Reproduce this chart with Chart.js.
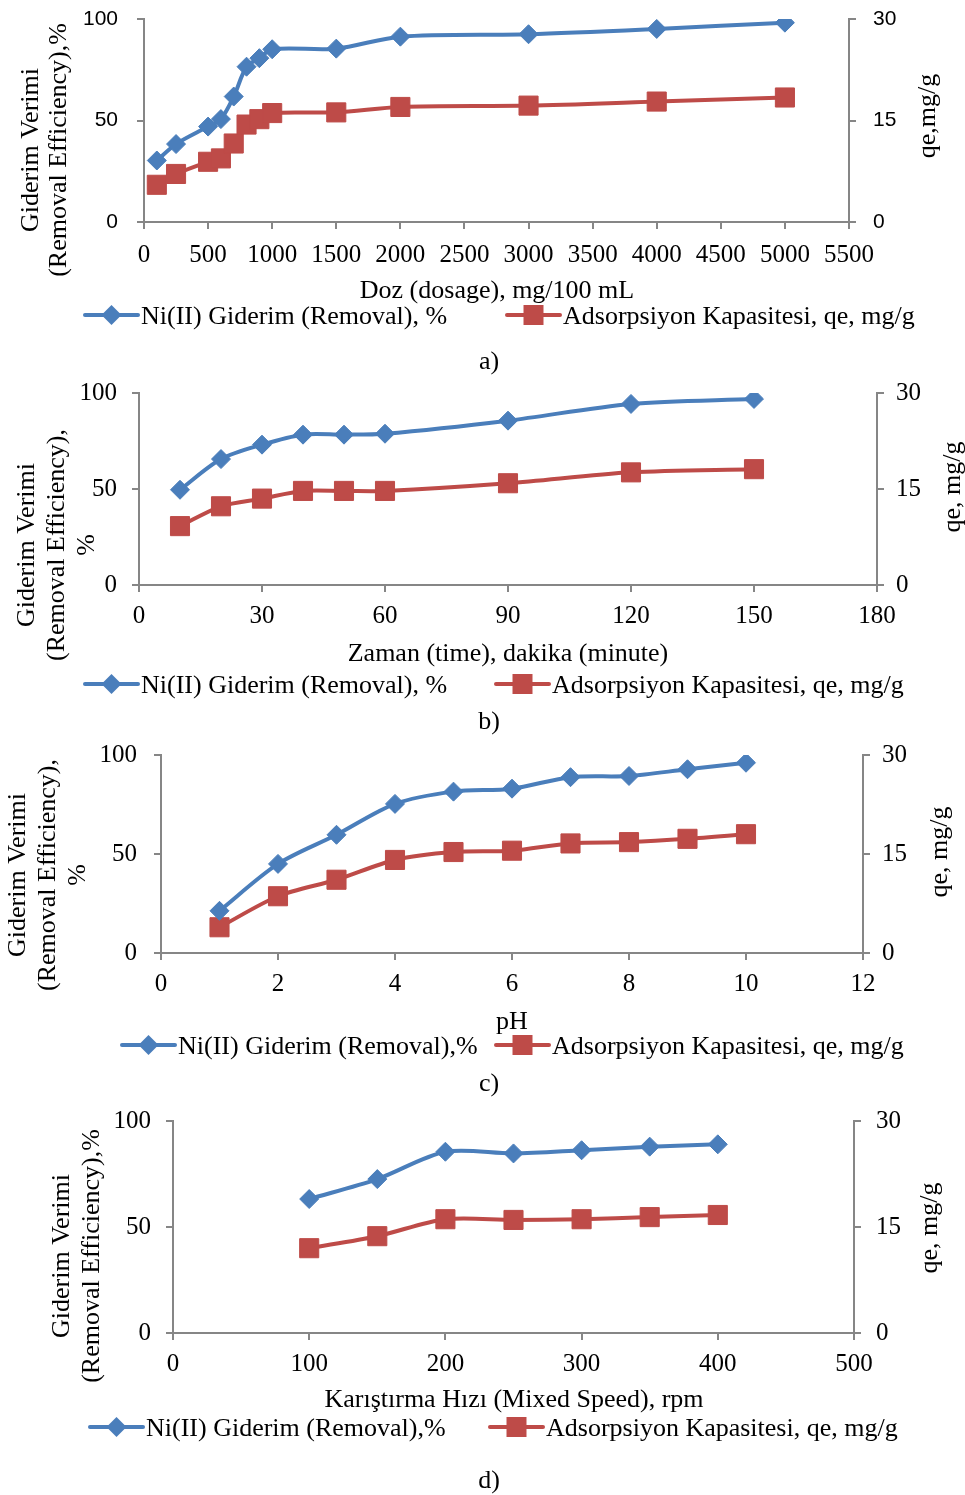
<!DOCTYPE html>
<html>
<head>
<meta charset="utf-8">
<script src="https://cdn.jsdelivr.net/npm/chart.js@4.4.1/dist/chart.umd.min.js"></script>
<style>
  body { margin: 0; background: #fff; width: 965px; height: 1495px; position: relative; overflow: hidden; }
  .panel { position: absolute; left: 0; width: 965px; }
</style>
</head>
<body>
<div class="panel" style="top:0;height:375px"><canvas id="grafica-a"></canvas></div>
<div class="panel" style="top:375px;height:362px"><canvas id="grafica-b"></canvas></div>
<div class="panel" style="top:737px;height:366px"><canvas id="grafica-c"></canvas></div>
<div class="panel" style="top:1103px;height:392px"><canvas id="grafica-d"></canvas></div>

<script>
// ===== DATOS =====
const serieGiderim = 'Ni(II) Giderim (Removal), %';
const serieQe = 'Adsorpsiyon Kapasitesi, qe, mg/g';

// a) dosis
const dosis = [100, 250, 500, 600, 700, 800, 900, 1000, 1500, 2000, 3000, 4000, 5000];
const dosisGiderim = [30.3, 38.4, 47.0, 50.7, 61.8, 76.5, 80.7, 85.1, 85.4, 91.3, 92.5, 95.1, 98.2];
const dosisQe = [5.5, 7.1, 8.9, 9.4, 11.6, 14.4, 15.2, 16.1, 16.2, 17.0, 17.2, 17.8, 18.4];

// b) tiempo
const zaman = [10, 20, 30, 40, 50, 60, 90, 120, 150];
const zamanGiderim = [49.6, 65.6, 73.1, 78.3, 78.3, 78.8, 85.6, 94.3, 96.9];
const zamanQe = [9.2, 12.3, 13.5, 14.7, 14.7, 14.7, 15.9, 17.6, 18.1];

// c) pH
const ph = [1, 2, 3, 4, 5, 6, 7, 8, 9, 10];
const phGiderim = [21.3, 45.0, 59.7, 75.3, 81.5, 83.0, 88.8, 89.4, 92.8, 96.1];
const phQe = [3.9, 8.6, 11.1, 14.1, 15.3, 15.5, 16.6, 16.8, 17.3, 18.0];

// d) velocidad de agitación
const hiz = [100, 150, 200, 250, 300, 350, 400];
const hizGiderim = [63.2, 72.6, 85.5, 84.7, 86.2, 87.9, 89.0];
const hizQe = [12.0, 13.7, 16.1, 16.0, 16.1, 16.4, 16.7];

// ejes
const ticksIzq = [0, 50, 100];
const ticksDer = [0, 15, 30];
const ticksDosis = [0, 500, 1000, 1500, 2000, 2500, 3000, 3500, 4000, 4500, 5000, 5500];
const ticksZaman = [0, 30, 60, 90, 120, 150, 180];
const ticksPh = [0, 2, 4, 6, 8, 10, 12];
const ticksHiz = [0, 100, 200, 300, 400, 500];

// ===== ESTILO =====
const AZUL = '#4A7EBB';
const ROJO = '#BE4B48';
const GRIS = '#868686';
const SERIF = '"Liberation Serif", "Times New Roman", serif';
const SANS = '"Liberation Sans", Arial, sans-serif';
const ANCHO = 965;

function dibujarMarcador(ctx, tipo, x, y, color) {
    ctx.fillStyle = color;
    ctx.beginPath();
    if (tipo === 'rombo') {
        ctx.moveTo(x, y - 10); ctx.lineTo(x + 10, y); ctx.lineTo(x, y + 10); ctx.lineTo(x - 10, y);
    } else {
        ctx.rect(x - 10, y - 10, 20, 20);
    }
    ctx.closePath();
    ctx.fill();
}

// Textos: títulos de ejes, leyenda y letra del panel
const pluginTextos = {
    id: 'textos',
    afterDraw(chart, args, o) {
        const ctx = chart.ctx;
        ctx.save();
        ctx.fillStyle = '#000';
        ctx.font = '26px ' + SERIF;
        ctx.textAlign = 'center';
        ctx.textBaseline = 'middle';

        // título eje izquierdo (varias líneas, girado)
        ctx.save();
        ctx.translate(o.izq.x, o.izq.y);
        ctx.rotate(-Math.PI / 2);
        const n = o.izq.lineas.length;
        o.izq.lineas.forEach((l, i) => ctx.fillText(l, 0, (i - (n - 1) / 2) * o.izq.sep));
        ctx.restore();

        // título eje derecho
        ctx.save();
        ctx.translate(o.der.x, o.der.y);
        ctx.rotate(-Math.PI / 2);
        ctx.fillText(o.der.texto, 0, 0);
        ctx.restore();

        // título eje x
        ctx.fillText(o.ejeX.texto, o.ejeX.x, o.ejeX.y);

        // leyenda
        ctx.textAlign = 'left';
        const ds = chart.data.datasets;
        o.leyenda.forEach((item, i) => {
            const d = ds[i];
            ctx.strokeStyle = d.borderColor;
            ctx.lineWidth = 4;
            ctx.lineCap = 'round';
            ctx.beginPath();
            ctx.moveTo(item.x, o.leyendaY);
            ctx.lineTo(item.x + 53, o.leyendaY);
            ctx.stroke();
            dibujarMarcador(ctx, i === 0 ? 'rombo' : 'cuadro', item.x + 26.5, o.leyendaY, d.borderColor);
            ctx.fillStyle = '#000';
            ctx.fillText(d.label, item.x + 56, o.leyendaY + 2);
        });

        // letra del panel
        ctx.textAlign = 'center';
        ctx.fillText(o.letra.texto, o.letra.x, o.letra.y);
        ctx.restore();
    }
};

function crearGrafica(id, cfg) {
    const canvas = document.getElementById(id);
    const alto = canvas.parentElement.clientHeight;
    const area = cfg.area; // {l, t, r, b} relativo al panel
    const fijar = (prop, valor) => s => {
        s[prop] = valor;
        s.paddingLeft = 0; s.paddingRight = 0; s.paddingTop = 0; s.paddingBottom = 0;
    };
    const ticksDe = arr => s => { s.ticks = arr.map(v => ({ value: v })); };
    const simple = v => String(v);

    return new Chart(canvas.getContext('2d'), {
        type: 'line',
        data: {
            datasets: [
                {
                    label: cfg.etiquetas[0],
                    data: cfg.x.map((v, i) => ({ x: v, y: cfg.giderim[i] })),
                    yAxisID: 'y',
                    borderColor: AZUL, backgroundColor: AZUL,
                    borderWidth: 4, tension: 0.3,
                    pointStyle: 'rectRot', pointRadius: 9.5, pointBorderWidth: 1,
                    pointBackgroundColor: AZUL, pointBorderColor: AZUL
                },
                {
                    label: cfg.etiquetas[1],
                    data: cfg.x.map((v, i) => ({ x: v, y: cfg.qe[i] })),
                    yAxisID: 'y2',
                    borderColor: ROJO, backgroundColor: ROJO,
                    borderWidth: 4, tension: 0.3,
                    pointStyle: 'rect', pointRadius: 13.5, pointBorderWidth: 1,
                    pointBackgroundColor: ROJO, pointBorderColor: ROJO
                }
            ]
        },
        options: {
            responsive: true,
            maintainAspectRatio: false,
            animation: false,
            layout: { padding: { top: area.t, left: 0, right: 0, bottom: 0 } },
            plugins: {
                legend: { display: false },
                tooltip: { enabled: false },
                textos: cfg.textos
            },
            scales: {
                x: {
                    type: 'linear',
                    min: cfg.ticksX[0], max: cfg.ticksX[cfg.ticksX.length - 1],
                    afterBuildTicks: ticksDe(cfg.ticksX),
                    afterFit: fijar('height', alto - area.b),
                    border: { display: true, color: GRIS, width: 2 },
                    grid: { drawOnChartArea: false, drawTicks: true, tickLength: 7, color: GRIS, lineWidth: 2 },
                    ticks: { color: '#000', font: { family: SERIF, size: 25 }, padding: cfg.padX, maxRotation: 0, autoSkip: false, callback: simple }
                },
                y: {
                    position: 'left',
                    min: 0, max: 100,
                    afterBuildTicks: ticksDe(ticksIzq),
                    afterFit: fijar('width', area.l),
                    border: { display: true, color: GRIS, width: 2 },
                    grid: { drawOnChartArea: false, drawTicks: true, tickLength: 7, color: GRIS, lineWidth: 2 },
                    ticks: { color: '#000', font: cfg.fuenteY, padding: cfg.padY[0], callback: simple }
                },
                y2: {
                    position: 'right',
                    min: 0, max: 30,
                    afterBuildTicks: ticksDe(ticksDer),
                    afterFit: fijar('width', ANCHO - area.r),
                    border: { display: true, color: GRIS, width: 2 },
                    grid: { drawOnChartArea: false, drawTicks: true, tickLength: 7, color: GRIS, lineWidth: 2 },
                    ticks: { color: '#000', font: cfg.fuenteY, padding: cfg.padY[1], callback: simple }
                }
            }
        },
        plugins: [pluginTextos]
    });
}

document.addEventListener('DOMContentLoaded', () => {

    // a) panel top 0
    crearGrafica('grafica-a', {
        x: dosis, giderim: dosisGiderim, qe: dosisQe, ticksX: ticksDosis,
        etiquetas: [serieGiderim, serieQe],
        area: { l: 144, t: 19, r: 849, b: 222 },
        padX: 11,
        fuenteY: { family: SANS, size: 21 }, padY: [19, 17],
        textos: {
            izq: { x: 45, y: 150, sep: 28, lineas: ['Giderim Verimi', '(Removal Efficiency),%'] },
            der: { x: 928, y: 116, texto: 'qe,mg/g' },
            ejeX: { x: 497, y: 291, texto: 'Doz (dosage), mg/100 mL' },
            leyendaY: 315,
            leyenda: [{ x: 85 }, { x: 507 }],
            letra: { x: 489, y: 362, texto: 'a)' }
        }
    });

    // b) panel top 375
    crearGrafica('grafica-b', {
        x: zaman, giderim: zamanGiderim, qe: zamanQe, ticksX: ticksZaman,
        etiquetas: [serieGiderim, serieQe],
        area: { l: 139, t: 18, r: 877, b: 210 },
        padX: 9,
        fuenteY: { family: SERIF, size: 25 }, padY: [15, 12],
        textos: {
            izq: { x: 57, y: 170, sep: 30, lineas: ['Giderim Verimi', '(Removal Efficiency),', '%'] },
            der: { x: 953, y: 112, texto: 'qe, mg/g' },
            ejeX: { x: 508, y: 279, texto: 'Zaman (time), dakika (minute)' },
            leyendaY: 309,
            leyenda: [{ x: 85 }, { x: 496 }],
            letra: { x: 489, y: 347, texto: 'b)' }
        }
    });

    // c) panel top 737
    crearGrafica('grafica-c', {
        x: ph, giderim: phGiderim, qe: phQe, ticksX: ticksPh,
        etiquetas: ['Ni(II) Giderim (Removal),%', serieQe],
        area: { l: 161, t: 18, r: 863, b: 216 },
        padX: 9,
        fuenteY: { family: SERIF, size: 25 }, padY: [17, 12],
        textos: {
            izq: { x: 48, y: 138, sep: 30, lineas: ['Giderim Verimi', '(Removal Efficiency),', '%'] },
            der: { x: 940, y: 115, texto: 'qe, mg/g' },
            ejeX: { x: 512, y: 285, texto: 'pH' },
            leyendaY: 308,
            leyenda: [{ x: 122 }, { x: 496 }],
            letra: { x: 489, y: 347, texto: 'c)' }
        }
    });

    // d) panel top 1103
    crearGrafica('grafica-d', {
        x: hiz, giderim: hizGiderim, qe: hizQe, ticksX: ticksHiz,
        etiquetas: ['Ni(II) Giderim (Removal),%', serieQe],
        area: { l: 173, t: 18, r: 854, b: 230 },
        padX: 9,
        fuenteY: { family: SERIF, size: 25 }, padY: [15, 15],
        textos: {
            izq: { x: 77, y: 153, sep: 30, lineas: ['Giderim Verimi', '(Removal Efficiency),%'] },
            der: { x: 930, y: 125, texto: 'qe, mg/g' },
            ejeX: { x: 514, y: 297, texto: 'Karıştırma Hızı (Mixed Speed), rpm' },
            leyendaY: 324,
            leyenda: [{ x: 90 }, { x: 490 }],
            letra: { x: 489, y: 378, texto: 'd)' }
        }
    });
});
</script>
</body>
</html>
